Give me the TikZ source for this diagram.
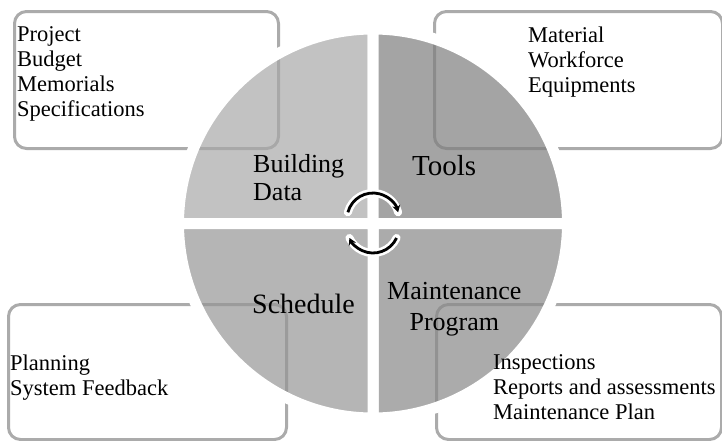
\documentclass[tikz,border=0pt]{standalone}
\usepackage{fontspec}
\setmainfont{Liberation Serif}
\usepackage{tikz}
\usetikzlibrary{arrows.meta}
\definecolor{boxgray}{HTML}{ABABAB}
\definecolor{datagray}{HTML}{A8A8A8}
\definecolor{toolgray}{HTML}{7E7E7E}
\definecolor{plangray}{HTML}{959595}
\definecolor{progray}{HTML}{888888}
\tikzstyle{infobox} = [rectangle, rounded corners=12pt, draw=boxgray, line width=3pt, anchor=north west, inner sep=0pt]
\tikzstyle{infotext} = [anchor=north west, inner sep=0pt, align=left, font=\fontsize{22.5}{25}\selectfont]
\tikzstyle{quadrant} = [draw=white, line width=11pt, line join=round, fill opacity=0.7]
\tikzstyle{label} = [inner sep=0pt]
\tikzstyle{halo} = [white, line width=8pt, line cap=round]
\tikzstyle{cyclearrow} = [black, line width=2.8pt, -{Stealth[length=7pt,width=8pt]}]

\begin{document}
\begin{tikzpicture}[x=1pt, y=-1pt]
                    \useasboundingbox (0,0) rectangle (722,440);

                    \node (1) [infobox, minimum width=264, minimum height=137] at (13,10) {};
                    \node (2) [infobox, minimum width=288, minimum height=137] at (433,10) {};
                    \node (3) [infobox, minimum width=278, minimum height=135] at (7,303) {};
                    \node (4) [infobox, minimum width=285, minimum height=135] at (435,303) {};

                    \coordinate (c) at (373,223.5);
                    \filldraw[quadrant, fill=datagray] (c) -- ++(180:194.5) arc[start angle=180, end angle=270, radius=194.5] -- cycle;
                    \filldraw[quadrant, fill=toolgray] (c) -- ++(270:194.5) arc[start angle=270, end angle=360, radius=194.5] -- cycle;
                    \filldraw[quadrant, fill=progray] (c) -- ++(0:194.5) arc[start angle=0, end angle=90, radius=194.5] -- cycle;
                    \filldraw[quadrant, fill=plangray] (c) -- ++(90:194.5) arc[start angle=90, end angle=180, radius=194.5] -- cycle;

                    \node (1t) [infotext] at (17,26.5) {Project\\Budget\\Memorials\\Specifications};
                    \node (2t) [infotext] at (528,26.5) {Material\\Workforce\\Equipments};
                    \node (3t) [infotext] at (10,354.5) {Planning\\System Feedback};
                    \node (4t) [infotext] at (493,354.5) {Inspections\\Reports and assessments\\Maintenance Plan};

                    \node (q1) [label, anchor=north west, align=left, font=\fontsize{26}{28}\selectfont] at (253,154) {Building\\Data};
                    \node (q2) [label, anchor=base west, font=\fontsize{29}{31}\selectfont] at (412,175) {Tools};
                    \node (q3) [label, anchor=base west, font=\fontsize{28}{30}\selectfont] at (252,313) {Schedule};
                    \node (q4) [label, anchor=north west, align=center, font=\fontsize{26}{31}\selectfont] at (387,282) {Maintenance\\Program};

                    \coordinate (top hub) at (373,219);
                    \coordinate (bottom hub) at (373,227);
                    \draw[halo] ([shift={(195:26)}]top hub) arc[start angle=195, end angle=345, radius=26];
                    \draw[cyclearrow] ([shift={(195:26)}]top hub) arc[start angle=195, end angle=345, radius=26];
                    \draw[halo] ([shift={(25:26)}]bottom hub) arc[start angle=25, end angle=155, radius=26];
                    \draw[cyclearrow] ([shift={(25:26)}]bottom hub) arc[start angle=25, end angle=155, radius=26];
                \end{tikzpicture}
\end{document}
